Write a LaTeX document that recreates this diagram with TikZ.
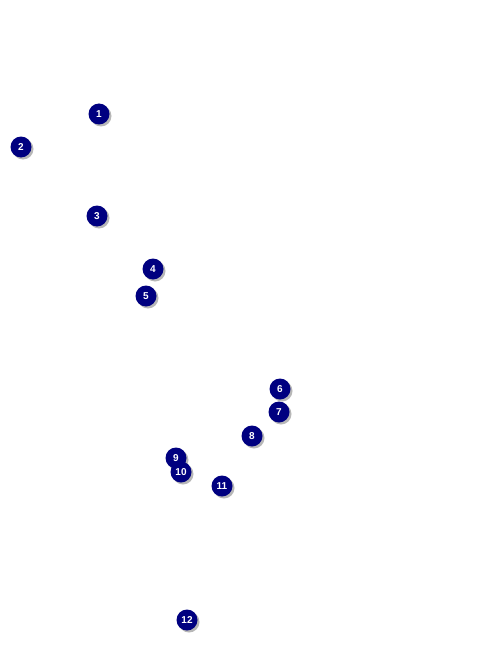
\documentclass[tikz,border=0pt]{standalone}
\usepackage{fontspec}
\setmainfont{Liberation Sans}
\begin{document}
\begin{tikzpicture}[x=1pt,y=-1pt,
  badge/.style={circle,fill={rgb,255:red,0;green,0;blue,128},minimum size=21pt,inner sep=0pt,
    text=white,font=\fontsize{10}{10}\selectfont\bfseries,
    preaction={fill=black!35,opacity=0.8,transform canvas={shift={(2pt,-2pt)}}}}]
\useasboundingbox[fill=white] (0,0) rectangle (485,650);
\node[badge] (n1) at (99,114) {1};
\node[badge] (n2) at (21,147) {2};
\node[badge] (n3) at (97,216) {3};
\node[badge] (n4) at (153,269) {4};
\node[badge] (n5) at (146,296) {5};
\node[badge] (n6) at (280,389) {6};
\node[badge] (n7) at (279,412) {7};
\node[badge] (n8) at (252,436) {8};
\node[badge] (n9) at (176,458) {9};
\node[badge] (n10) at (181,472) {10};
\node[badge] (n11) at (222,486) {11};
\node[badge] (n12) at (187,620) {12};
\end{tikzpicture}
\end{document}
